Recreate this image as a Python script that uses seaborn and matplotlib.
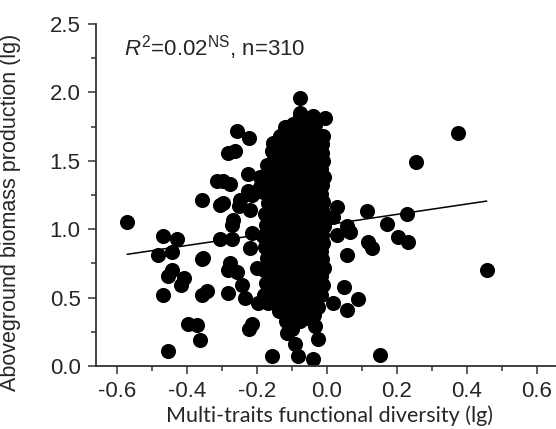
import numpy as np
import pandas as pd
import matplotlib
matplotlib.use("Agg")
import matplotlib.pyplot as plt
import seaborn as sns

# ============================
# DATA
# ============================
# scattered points around the main cloud
fd_outer = [-0.570, -0.467, -0.429, -0.481, -0.443, -0.443, -0.454, -0.407, -0.416, -0.467,
            -0.357, -0.343, -0.357, -0.395, -0.371, -0.362, -0.453, -0.305, -0.271, -0.271,
            -0.276, -0.281, -0.257, -0.281, -0.243, -0.233, -0.214, -0.219, -0.214, -0.222,
            -0.157, -0.195, -0.167, -0.162, -0.114, -0.100, -0.091, -0.081, -0.038, -0.033,
            -0.024, -0.024, -0.119, -0.091, -0.355, -0.314, -0.276, -0.295, -0.248, -0.219,
            -0.267, -0.257, -0.221, -0.281, -0.262, -0.224, -0.191, -0.214, -0.145, -0.076,
            -0.076, -0.038, -0.005, -0.086, 0.029, 0.019, 0.057, -0.352, -0.200, 0.019,
            0.029, 0.057, 0.048, 0.057, 0.067, 0.119, 0.129, 0.171, 0.205, 0.233,
            0.090, 0.152, 0.457, 0.376, 0.255, 0.114, 0.229, -0.224, -0.190, -0.295,
            -0.305, -0.250]
agb_outer = [1.05, 0.95, 0.93, 0.81, 0.83, 0.70, 0.66, 0.64, 0.59, 0.52,
             0.78, 0.55, 0.52, 0.31, 0.30, 0.19, 0.11, 0.93, 0.93, 1.03,
             0.75, 0.70, 0.69, 0.53, 0.59, 0.50, 0.97, 0.86, 0.31, 0.27,
             0.07, 0.46, 0.46, 0.54, 0.24, 0.27, 0.16, 0.07, 0.05, 0.29,
             0.20, 0.43, 0.41, 0.41, 1.21, 1.35, 1.33, 1.19, 1.21, 1.14,
             1.07, 1.72, 1.67, 1.56, 1.57, 1.40, 1.38, 1.25, 1.63, 1.96,
             1.85, 1.83, 1.81, 1.75, 1.16, 1.09, 1.02, 0.79, 0.72, 0.46,
             0.96, 0.81, 0.58, 0.41, 0.98, 0.91, 0.86, 1.04, 0.94, 0.91,
             0.49, 0.08, 0.70, 1.70, 1.49, 1.13, 1.11, 1.28, 1.31, 1.35,
             1.18, 1.17]

# dense core of the cloud
fd_core = [
    -0.178, -0.172, -0.180, -0.170, -0.176, -0.182, -0.173, -0.177, -0.169, -0.181, -0.174, -0.171,
    -0.158, -0.152, -0.156, -0.150, -0.159, -0.153, -0.157, -0.151, -0.160, -0.154, -0.149, -0.157,
    -0.152, -0.158, -0.155, -0.150, -0.156, -0.153,
    -0.137, -0.132, -0.139, -0.130, -0.135, -0.141, -0.133, -0.136, -0.129, -0.138, -0.134, -0.131,
    -0.140, -0.136, -0.132, -0.138, -0.130, -0.135, -0.139, -0.133, -0.137, -0.131, -0.136, -0.134,
    -0.117, -0.112, -0.119, -0.110, -0.115, -0.121, -0.113, -0.116, -0.109, -0.118, -0.114, -0.111,
    -0.120, -0.116, -0.112, -0.118, -0.110, -0.115, -0.119, -0.113, -0.117, -0.111, -0.116, -0.114,
    -0.118, -0.112, -0.115, -0.120,
    -0.097, -0.092, -0.099, -0.090, -0.095, -0.101, -0.093, -0.096, -0.089, -0.098, -0.094, -0.091,
    -0.100, -0.096, -0.092, -0.098, -0.090, -0.095, -0.099, -0.093, -0.097, -0.091, -0.096, -0.094,
    -0.098, -0.092, -0.095, -0.100, -0.093, -0.097,
    -0.077, -0.072, -0.079, -0.070, -0.075, -0.081, -0.073, -0.076, -0.069, -0.078, -0.074, -0.071,
    -0.080, -0.076, -0.072, -0.078, -0.070, -0.075, -0.079, -0.073, -0.077, -0.071, -0.076, -0.074,
    -0.078, -0.072, -0.075, -0.080, -0.073, -0.077,
    -0.057, -0.052, -0.059, -0.050, -0.055, -0.061, -0.053, -0.056, -0.049, -0.058, -0.054, -0.051,
    -0.060, -0.056, -0.052, -0.058, -0.050, -0.055, -0.059, -0.053, -0.057, -0.051, -0.056, -0.054,
    -0.058, -0.052, -0.055, -0.060, -0.053, -0.057,
    -0.037, -0.032, -0.039, -0.030, -0.035, -0.041, -0.033, -0.036, -0.029, -0.038, -0.034, -0.031,
    -0.040, -0.036, -0.032, -0.038, -0.030, -0.035, -0.039, -0.033, -0.037, -0.031, -0.036, -0.034,
    -0.038, -0.032,
    -0.015, -0.010, -0.016, -0.009, -0.013, -0.017, -0.011, -0.014, -0.008, -0.016, -0.012, -0.010,
    -0.015, -0.013, -0.009, -0.016, -0.011, -0.014, -0.012, -0.010,
]
agb_core = [
    0.52, 0.61, 0.70, 0.79, 0.87, 0.95, 1.03, 1.11, 1.19, 1.27, 1.36, 1.47,
    0.47, 0.55, 0.62, 0.69, 0.76, 0.83, 0.89, 0.96, 1.02, 1.09, 1.16, 1.23,
    1.30, 1.37, 1.44, 1.51, 1.57, 1.63,
    0.40, 0.46, 0.52, 0.58, 0.64, 0.70, 0.75, 0.80, 0.85, 0.90, 0.95, 1.00,
    1.05, 1.10, 1.15, 1.20, 1.26, 1.32, 1.38, 1.44, 1.50, 1.56, 1.62, 1.68,
    0.33, 0.39, 0.45, 0.51, 0.57, 0.62, 0.67, 0.72, 0.77, 0.82, 0.87, 0.91,
    0.95, 0.99, 1.03, 1.07, 1.12, 1.17, 1.22, 1.27, 1.33, 1.39, 1.45, 1.51,
    1.57, 1.63, 1.69, 1.75,
    0.31, 0.37, 0.43, 0.49, 0.54, 0.59, 0.64, 0.69, 0.74, 0.78, 0.82, 0.86,
    0.90, 0.94, 0.98, 1.02, 1.06, 1.10, 1.14, 1.18, 1.23, 1.28, 1.33, 1.38,
    1.44, 1.50, 1.56, 1.62, 1.69, 1.77,
    0.33, 0.39, 0.45, 0.51, 0.56, 0.61, 0.66, 0.70, 0.74, 0.78, 0.82, 0.86,
    0.90, 0.94, 0.98, 1.02, 1.06, 1.10, 1.15, 1.20, 1.25, 1.30, 1.36, 1.42,
    1.48, 1.54, 1.60, 1.67, 1.74, 1.82,
    0.35, 0.41, 0.47, 0.53, 0.58, 0.63, 0.68, 0.72, 0.76, 0.80, 0.84, 0.88,
    0.92, 0.96, 1.00, 1.04, 1.08, 1.12, 1.17, 1.22, 1.27, 1.32, 1.38, 1.44,
    1.50, 1.56, 1.62, 1.68, 1.75, 1.81,
    0.37, 0.44, 0.50, 0.56, 0.62, 0.67, 0.72, 0.77, 0.82, 0.87, 0.92, 0.97,
    1.02, 1.07, 1.12, 1.17, 1.22, 1.28, 1.34, 1.40, 1.46, 1.52, 1.58, 1.64,
    1.70, 1.76,
    0.52, 0.59, 0.66, 0.72, 0.78, 0.84, 0.90, 0.96, 1.02, 1.08, 1.14, 1.20,
    1.26, 1.32, 1.38, 1.44, 1.50, 1.56, 1.62, 1.68,
]

x_ticks = [-0.6, -0.4, -0.2, 0.0, 0.2, 0.4, 0.6]
x_ticklabels = ["-0.6", "-0.4", "-0.2", "0.0", "0.2", "0.4", "0.6"]
y_ticks = [0.0, 0.5, 1.0, 1.5, 2.0, 2.5]
y_ticklabels = ["0.0", "0.5", "1.0", "1.5", "2.0", "2.5"]

df = pd.DataFrame({
    "fd": fd_outer + fd_core,
    "agb": agb_outer + agb_core,
})

# ============================
# PLOT
# ============================
sns.set_style("ticks")
plt.rcParams["font.family"] = ["Liberation Sans", "DejaVu Sans"]
plt.rcParams["mathtext.fontset"] = "custom"
plt.rcParams["mathtext.rm"] = "Liberation Sans"
plt.rcParams["mathtext.it"] = "Liberation Sans:italic"

fig = plt.figure(figsize=(5.56, 4.29), dpi=100)
ax = fig.add_axes([96 / 556, 63 / 429, 460 / 556, 342 / 429])

sns.regplot(data=df, x="fd", y="agb", ax=ax, ci=None,
            scatter_kws=dict(s=118, color="black", alpha=1, linewidths=0),
            line_kws=dict(color="black", lw=1.1))

ax.set_xlim(-0.659, 0.655)
ax.set_ylim(0, 2.5)
ax.set_xticks(x_ticks, x_ticklabels)
ax.set_yticks(y_ticks, y_ticklabels)
ax.set_xticks(np.arange(-0.6, 0.65, 0.1), minor=True)
ax.set_yticks(np.arange(0, 2.51, 0.25), minor=True)

ax.tick_params(which="major", length=6, width=1.1, color="#333333", labelsize=16)
ax.tick_params(axis="x", which="major", pad=5)
ax.tick_params(axis="y", which="major", pad=5)
ax.tick_params(which="minor", length=3.5, width=1.1, color="#333333")
sns.despine(ax=ax)
for s in ["left", "bottom"]:
    ax.spines[s].set_linewidth(1.3)
    ax.spines[s].set_color("#333333")

ax.set_xlabel("Multi-traits functional diversity (lg)", fontsize=15.5,
              family=["Lato", "DejaVu Sans"])
ax.xaxis.set_label_coords(0.507, -0.115)
ax.set_ylabel("Aboveground biomass production (lg)", fontsize=15.5)
ax.yaxis.set_label_coords(-0.162, 0.45)

ax.text(-0.58, 2.33, r"$R^2$=0.02$^{\mathrm{NS}}$, n=310", fontsize=16, va="center")

plt.savefig("out.png", dpi=100)
